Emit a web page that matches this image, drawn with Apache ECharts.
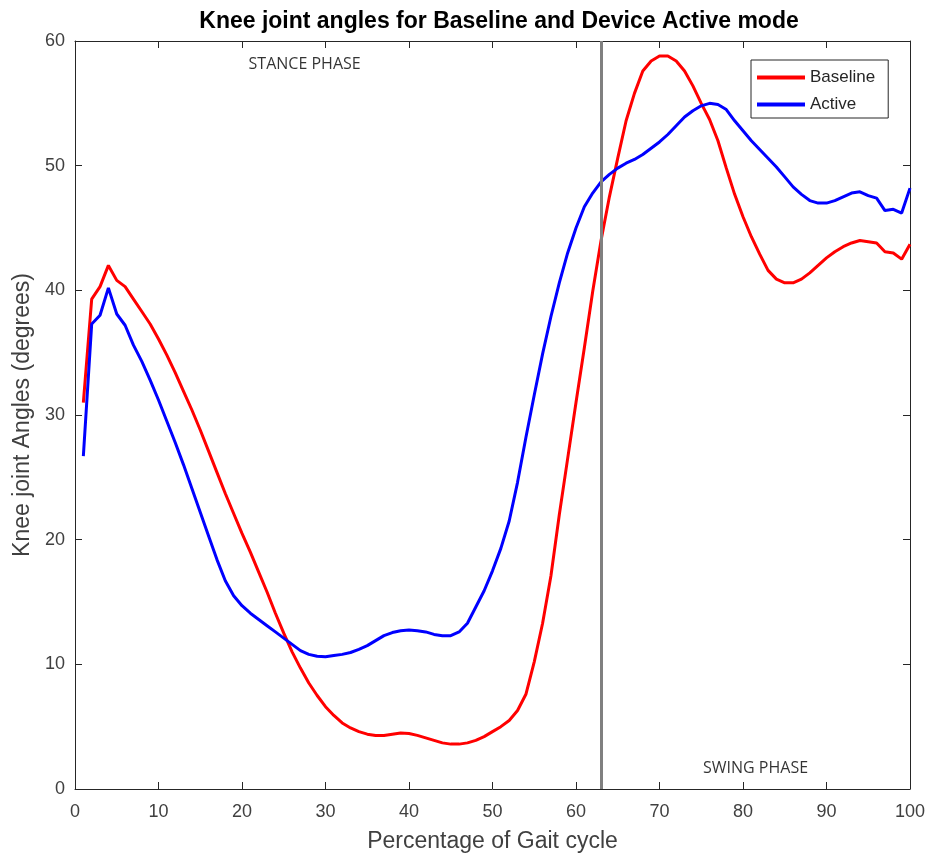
<!DOCTYPE html>
<html>
<head>
<meta charset="utf-8">
<script src="https://cdn.jsdelivr.net/npm/echarts@6/dist/echarts.min.js"></script>
<style>html,body{margin:0;padding:0;background:#fff;}#c{width:930px;height:859px;}</style>
</head>
<body>
<div id="c"></div>
<script>
const gaitPercent = [1,2,3,4,5,6,7,8,9,10,11,12,13,14,15,16,17,18,19,20,21,22,23,24,25,26,27,28,29,30,31,32,33,34,35,36,37,38,39,40,41,42,43,44,45,46,47,48,49,50,51,52,53,54,55,56,57,58,59,60,61,62,63,64,65,66,67,68,69,70,71,72,73,74,75,76,77,78,79,80,81,82,83,84,85,86,87,88,89,90,91,92,93,94,95,96,97,98,99,100];
const baseline = [31.0,39.3,40.3,42.0,40.8,40.3,39.3,38.3,37.3,36.1,34.8,33.4,31.9,30.4,28.8,27.1,25.4,23.7,22.1,20.5,19.0,17.4,15.8,14.1,12.5,11.0,9.7,8.5,7.5,6.6,5.9,5.3,4.9,4.6,4.4,4.3,4.3,4.4,4.5,4.45,4.3,4.1,3.9,3.7,3.6,3.6,3.7,3.9,4.2,4.6,5.0,5.5,6.3,7.6,10.2,13.3,17.1,22.0,26.5,31.0,35.4,39.9,44.0,47.5,50.6,53.6,55.8,57.6,58.4,58.8,58.8,58.4,57.6,56.4,55.0,53.7,52.0,49.8,47.7,45.9,44.3,42.9,41.6,40.9,40.6,40.6,40.9,41.4,42.0,42.6,43.1,43.5,43.8,44.0,43.9,43.8,43.1,43.0,42.5,43.7];
const active = [26.7,37.3,38.0,40.2,38.1,37.2,35.6,34.3,32.8,31.2,29.5,27.8,26.0,24.1,22.2,20.3,18.4,16.7,15.5,14.7,14.1,13.6,13.1,12.6,12.1,11.6,11.1,10.8,10.65,10.6,10.7,10.8,10.95,11.2,11.5,11.9,12.3,12.55,12.7,12.75,12.7,12.6,12.4,12.3,12.3,12.6,13.3,14.6,15.9,17.5,19.3,21.5,24.6,28.2,31.6,34.9,37.9,40.6,43.0,45.0,46.7,47.8,48.7,49.3,49.8,50.2,50.5,50.9,51.4,51.9,52.5,53.2,53.9,54.4,54.8,55.0,54.9,54.5,53.6,52.8,52.0,51.3,50.6,49.9,49.1,48.3,47.7,47.2,47.0,47.0,47.2,47.5,47.8,47.9,47.6,47.4,46.4,46.5,46.2,48.2];
const phaseBoundary = 63;
const phaseLabels = ['STANCE PHASE', 'SWING PHASE'];
const phaseLabelPos = [[27.5, 58.1], [81.5, 1.62]];

const chart = echarts.init(document.getElementById('c'), null, {renderer: 'canvas'});
const F = 'Liberation Sans, Arial, Helvetica, sans-serif';
const mkLine = () => ({show: true, onZero: false, lineStyle: {color: '#262626', width: 1}});
const mkTick = () => ({show: true, inside: true, length: 7, lineStyle: {color: '#262626', width: 1}});
const option = {
  animation: false,
  backgroundColor: '#fff',
  title: {
    text: 'Knee joint angles for Baseline and Device Active mode',
    left: 494, top: 5, textAlign: 'center',
    textStyle: {fontFamily: F, fontWeight: 'bold', fontSize: 23, color: '#000'}
  },
  legend: {
    orient: 'vertical', left: 751, top: 60,
    backgroundColor: '#fff', borderColor: '#262626', borderWidth: 1, borderRadius: 0,
    padding: [9, 13, 5, 6], itemGap: 10,
    itemWidth: 48, itemHeight: 4, icon: 'rect',
    textStyle: {fontFamily: F, fontSize: 17, color: '#262626'},
    data: ['Baseline', 'Active']
  },
  grid: {left: 75, right: 20, top: 41, bottom: 70, containLabel: false},
  xAxis: [{
    type: 'value', min: 0, max: 100, interval: 10,
    name: 'Percentage of Gait cycle', nameLocation: 'middle', nameGap: 41,
    nameTextStyle: {fontFamily: F, fontSize: 23, color: '#404040'},
    axisLine: mkLine(), axisTick: mkTick(),
    axisLabel: {fontFamily: F, fontSize: 18, color: '#404040', margin: 14},
    splitLine: {show: false}
  }, {
    type: 'value', min: 0, max: 100, interval: 10, position: 'top',
    axisLine: mkLine(), axisTick: mkTick(), axisLabel: {show: false}, splitLine: {show: false}
  }],
  yAxis: [{
    type: 'value', min: 0, max: 60, interval: 10,
    name: 'Knee joint Angles (degrees)', nameLocation: 'middle', nameGap: 41,
    nameTextStyle: {fontFamily: F, fontSize: 23, color: '#404040'},
    axisLine: mkLine(), axisTick: mkTick(),
    axisLabel: {fontFamily: F, fontSize: 18, color: '#404040', margin: 10},
    splitLine: {show: false}
  }, {
    type: 'value', min: 0, max: 60, interval: 10, position: 'right',
    axisLine: mkLine(), axisTick: mkTick(), axisLabel: {show: false}, splitLine: {show: false}
  }],
  series: [{
    name: 'Baseline', type: 'line', showSymbol: false, smooth: false,
    color: '#ff0000', lineStyle: {width: 3, color: '#ff0000'},
    data: gaitPercent.map((x, i) => [x, baseline[i]]),
    markLine: {
      silent: true, symbol: 'none', label: {show: false},
      lineStyle: {color: '#808080', width: 3, type: 'solid'},
      data: [{xAxis: phaseBoundary}]
    },
    z: 3
  }, {
    name: 'Active', type: 'line', showSymbol: false, smooth: false,
    color: '#0000ff', lineStyle: {width: 3, color: '#0000ff'},
    data: gaitPercent.map((x, i) => [x, active[i]]),
    z: 4
  }, {
    type: 'scatter', symbolSize: 0, silent: true,
    data: phaseLabelPos,
    label: {
      show: true, position: 'inside',
      fontFamily: 'Open Sans, sans-serif', fontSize: 16, color: '#000',
      formatter: p => phaseLabels[p.dataIndex]
    }
  }]
};
chart.setOption(option);
</script>
</body>
</html>
